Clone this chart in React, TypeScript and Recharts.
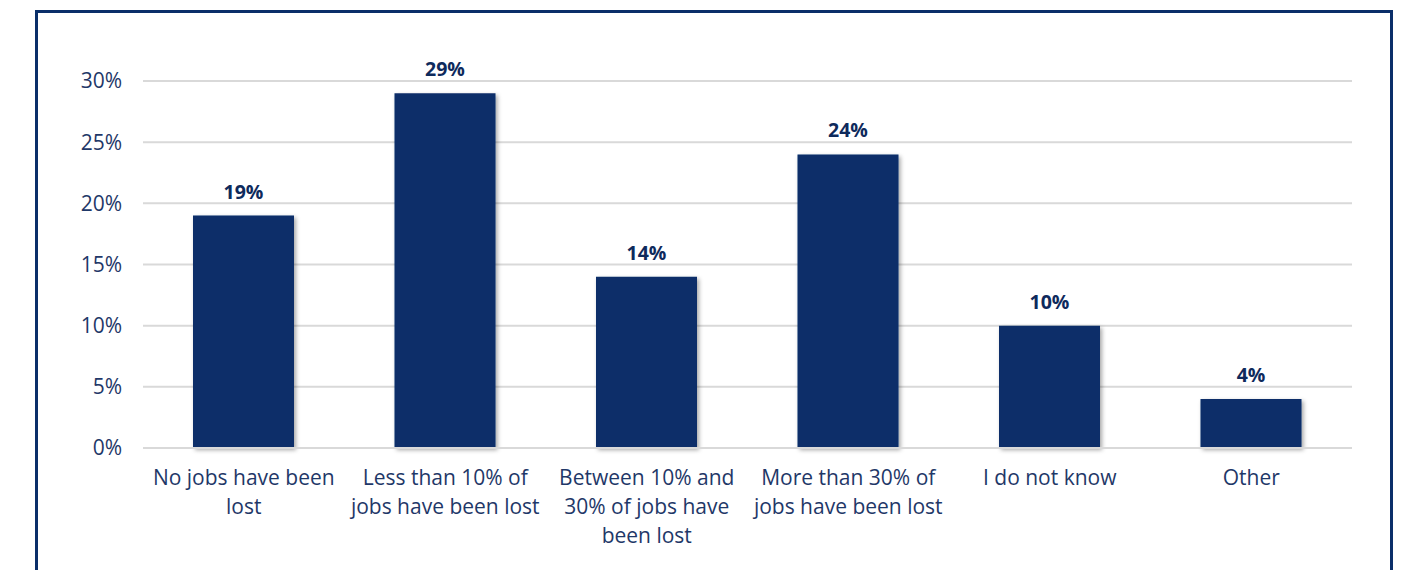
import { BarChart, Bar, XAxis, YAxis, CartesianGrid, LabelList } from 'recharts';

const categories = [
  'No jobs have been\nlost',
  'Less than 10% of\njobs have been lost',
  'Between 10% and\n30% of jobs have\nbeen lost',
  'More than 30% of\njobs have been lost',
  'I do not know',
  'Other',
];
const shares = [19, 29, 14, 24, 10, 4];
const yTicks = [0, 5, 10, 15, 20, 25, 30];

const data = categories.map((name, i) => ({ name, value: shares[i] }));

const NAVY = '#0a2f69';
const TEXT = '#1f3868';
const FONT = '"Open Sans", sans-serif';

function CategoryTick({ x, y, payload }: any) {
  const lines: string[] = String(payload.value).split('\n');
  return (
    <text x={x} y={y} textAnchor="middle" fill={TEXT} fontFamily={FONT} fontSize={21}>
      {lines.map((line, i) => (
        <tspan key={i} x={x} dy={i === 0 ? 37 : 29}>
          {line}
        </tspan>
      ))}
    </text>
  );
}

export default function App() {
  return (
    <div style={{ position: 'fixed', left: 0, top: 0, width: 1405, height: 570, background: '#fff', overflow: 'hidden' }}>
      <div
        style={{
          position: 'absolute',
          left: 35,
          top: 10,
          width: 1352,
          height: 600,
          border: `3px solid ${NAVY}`,
          borderBottom: 'none',
        }}
      />
      <div style={{ position: 'absolute', left: 1, top: 0 }}>
        <BarChart width={1405} height={570} data={data} margin={{ top: 81, right: 54, bottom: 22, left: 0 }}>
          <defs>
            <filter id="barShadow" x="-10%" y="-10%" width="125%" height="125%">
              <feDropShadow dx="2" dy="2" stdDeviation="2" floodColor="#000" floodOpacity="0.35" />
            </filter>
          </defs>
          <CartesianGrid vertical={false} stroke="#d9d9d9" strokeWidth={2} />
          <XAxis
            dataKey="name"
            axisLine={{ stroke: '#d9d9d9', strokeWidth: 2 }}
            tickLine={false}
            tickSize={0}
            tickMargin={0}
            height={100}
            interval={0}
            tick={<CategoryTick />}
          />
          <YAxis
            domain={[0, 30]}
            ticks={yTicks}
            width={142}
            axisLine={false}
            tickLine={false}
            tickSize={0}
            tickMargin={21}
            tickFormatter={(v) => `${v}%`}
            tick={{ fill: TEXT, fontFamily: FONT, fontSize: 21 }}
          />
          <Bar dataKey="value" fill={NAVY} barSize={101} isAnimationActive={false} filter="url(#barShadow)">
            <LabelList
              dataKey="value"
              position="top"
              offset={17}
              formatter={(v: any) => `${v}%`}
              fill="#0e2a5c"
              fontFamily={FONT}
              fontSize={19.5}
              fontWeight="bold"
            />
          </Bar>
        </BarChart>
      </div>
    </div>
  );
}
